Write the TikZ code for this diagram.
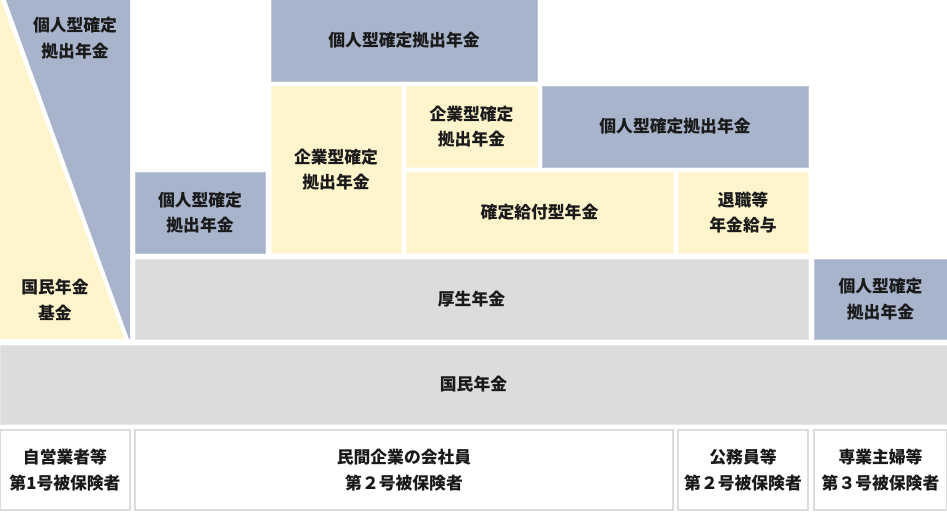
\documentclass[tikz,border=0pt]{standalone}
\usepackage{fontspec}
\setmainfont{Noto Sans CJK JP}
\definecolor{kojin}{HTML}{A8B3CC}
\definecolor{kojinline}{HTML}{BFC7D9}
\definecolor{kigyo}{HTML}{FFF5CD}
\definecolor{kigyoline}{HTML}{FFF9E2}
\definecolor{kiso}{HTML}{DCDCDC}
\definecolor{kisoline}{HTML}{E6E6E6}
\definecolor{ink}{HTML}{1A1A1A}

\begin{document}
\begin{tikzpicture}[x=1pt,y=-1pt,
		box/.style={anchor=north west, inner sep=0pt, outer sep=0pt, align=center, line width=1pt,
			font=\fontsize{16.8}{25.5}\selectfont\bfseries, text=ink},
		bluebox/.style={box, fill=kojin, draw=kojinline},
		yellowbox/.style={box, fill=kigyo, draw=kigyoline},
		graybox/.style={box, fill=kiso, draw=kisoline},
		whitebox/.style={box, fill=white, draw=kiso, line width=1.2pt},
		lbl/.style={align=center, inner sep=0pt, font=\fontsize{16.8}{25.5}\selectfont\bfseries, text=ink}]
		\useasboundingbox (0,0) rectangle (947,511);

		% left column: national pension fund / individual DC
		\fill[kigyo] (0,0)--(1,0)--(124.5,339)--(0,339)--cycle;
		\fill[kojin] (6,0)--(130,0)--(130,339)--(129,339)--cycle;
		\node[lbl] (kojinA) at (75,38) {個人型確定\\拠出年金};
		\node[lbl] (kikin) at (55,300) {国民年金\\基金};

		% upper floors
		\node[bluebox, minimum width=266pt, minimum height=81pt] (kojinB) at (271,0) {個人型確定拠出年金};
		\node[yellowbox, minimum width=130pt, minimum height=167pt] (kigyoA) at (271,86) {企業型確定\\拠出年金};
		\node[yellowbox, minimum width=131pt, minimum height=81pt] (kigyoB) at (406,86) {企業型確定\\拠出年金};
		\node[bluebox, minimum width=266pt, minimum height=81pt] (kojinC) at (542,86) {個人型確定拠出年金};
		\node[bluebox, minimum width=130pt, minimum height=81pt] (kojinD) at (135,172) {個人型確定\\拠出年金};
		\node[yellowbox, minimum width=267pt, minimum height=81pt] (kakutei) at (406,172) {確定給付型年金};
		\node[yellowbox, minimum width=130pt, minimum height=81pt] (taishoku) at (678,172) {退職等\\年金給与};

		% second floor
		\node[graybox, minimum width=673pt, minimum height=80pt] (kosei) at (135,259) {厚生年金};
		\node[bluebox, minimum width=133pt, minimum height=80pt] (kojinE) at (814,259) {個人型確定\\拠出年金};

		% first floor
		\node[graybox, minimum width=947pt, minimum height=79pt] (kokumin) at (0,345) {国民年金};

		% insured persons
		\node[whitebox, minimum width=130pt, minimum height=80pt] (dai1) at (0,430) {自営業者等\\第1号被保険者};
		\node[whitebox, minimum width=538pt, minimum height=80pt] (dai2a) at (135,430) {民間企業の会社員\\第２号被保険者};
		\node[whitebox, minimum width=130pt, minimum height=80pt] (dai2b) at (678,430) {公務員等\\第２号被保険者};
		\node[whitebox, minimum width=133pt, minimum height=80pt] (dai3) at (814,430) {専業主婦等\\第３号被保険者};
	\end{tikzpicture}
\end{document}
